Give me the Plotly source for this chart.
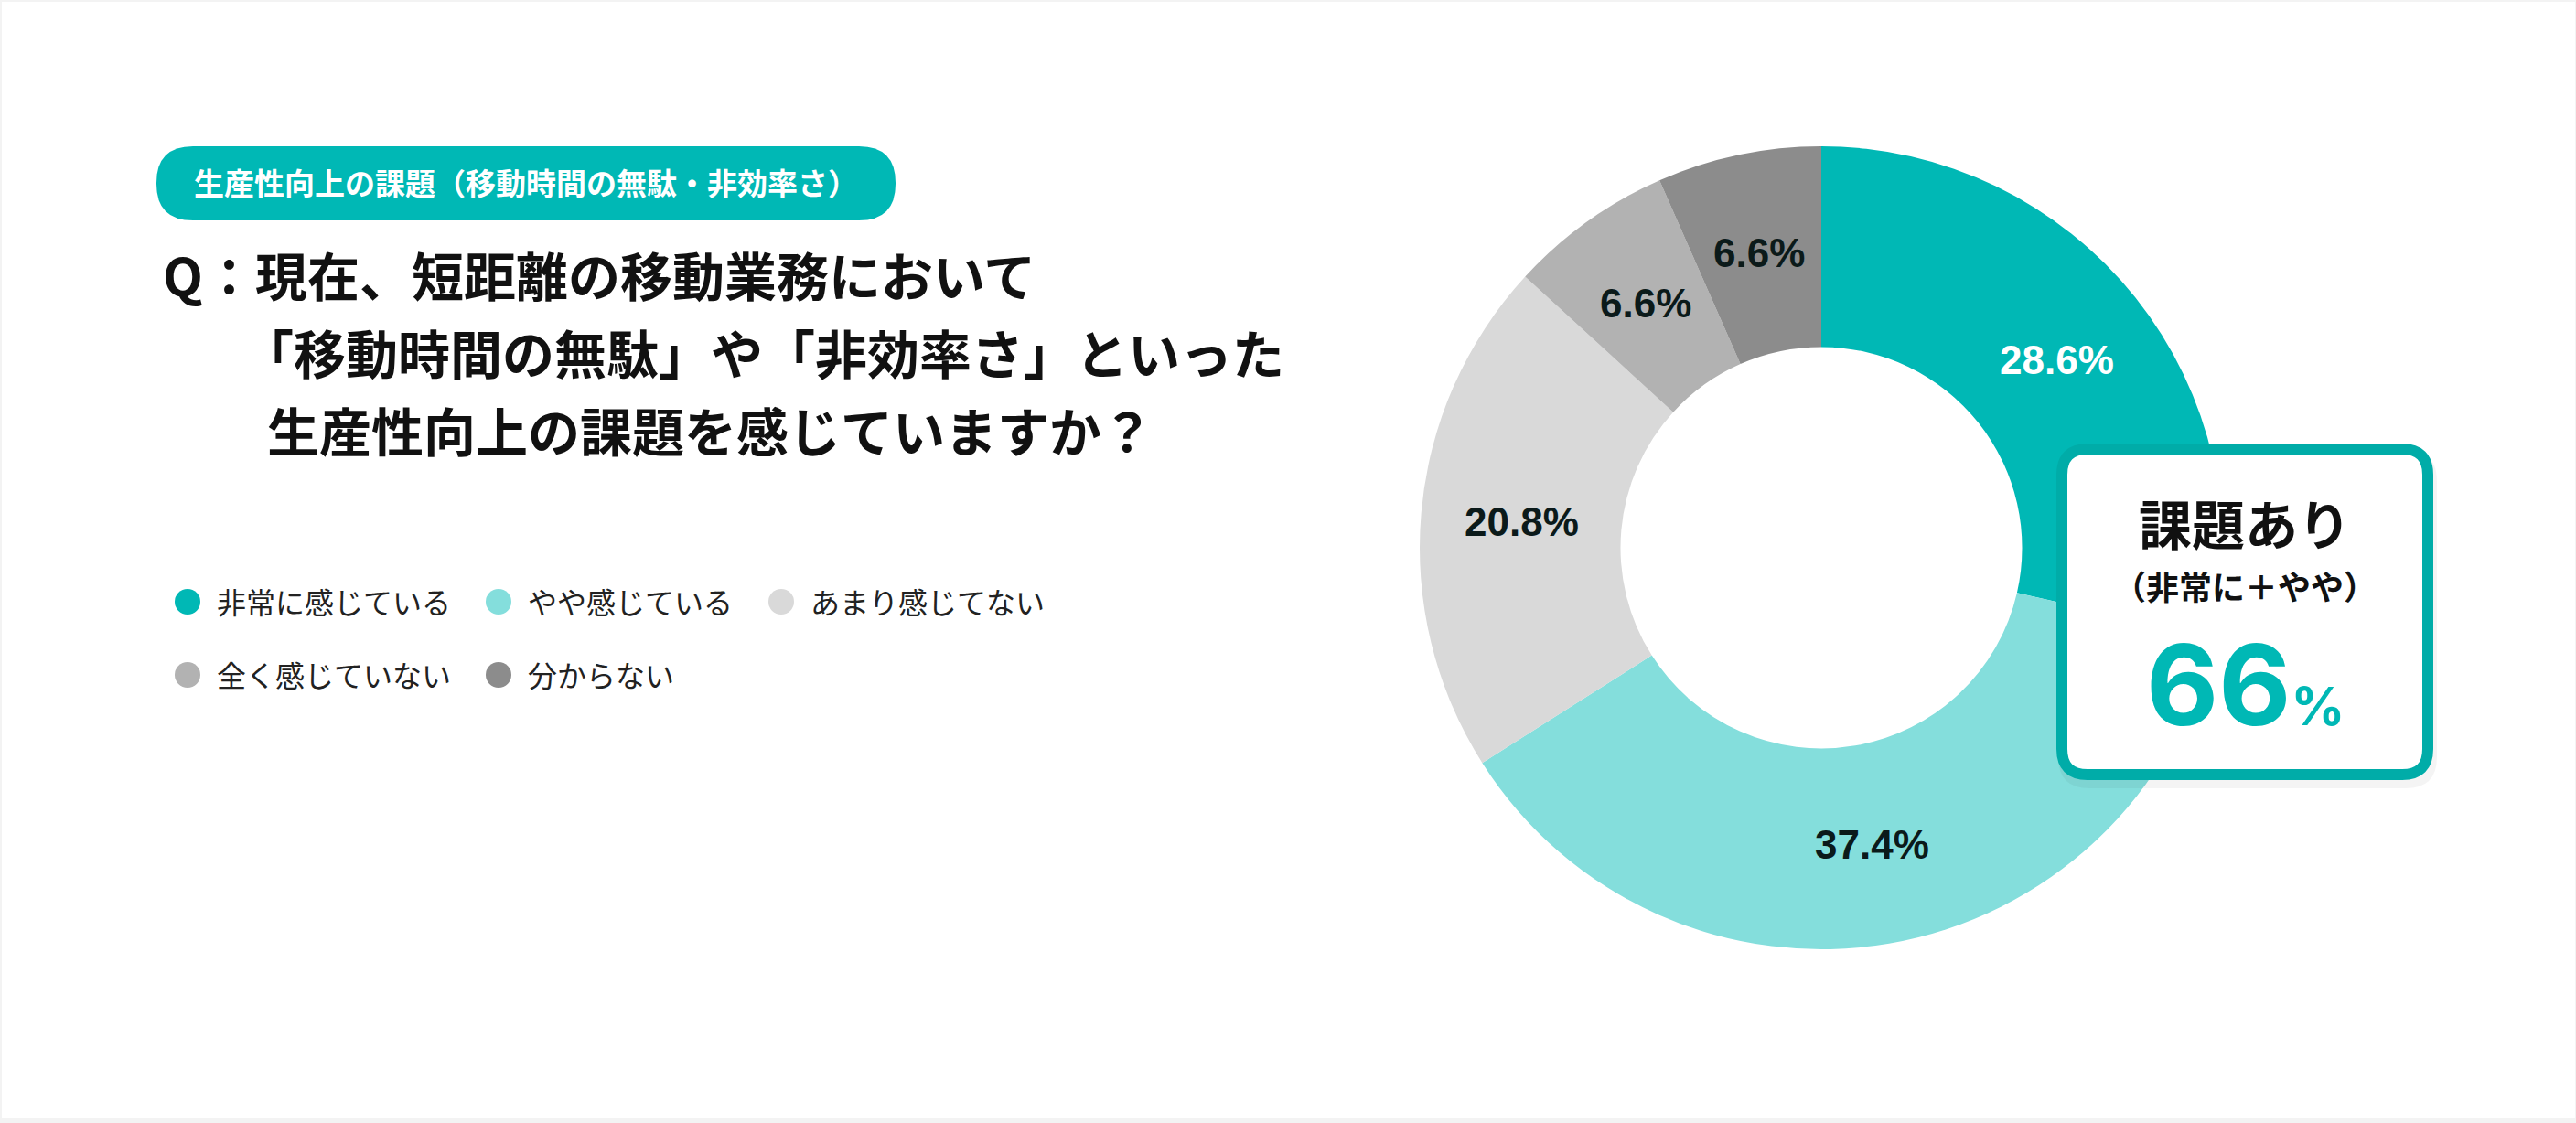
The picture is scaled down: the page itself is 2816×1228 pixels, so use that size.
import math

import plotly.graph_objects as go

# data
categories = ["非常に感じている", "やや感じている", "あまり感じてない", "全く感じていない", "分からない"]
shares = [28.6, 37.4, 20.8, 6.6, 6.6]
colors = ["#00b8b5", "#84dedc", "#d9d9d9", "#b2b2b2", "#8c8c8c"]
label_colors = ["#ffffff", "#0b1a1a", "#0b1a1a", "#0b1a1a", "#0b1a1a"]

badge_text = "生産性向上の課題（移動時間の無駄・非効率さ）"
question_lines = [
    "Q：現在、短距離の移動業務において",
    "「移動時間の無駄」や「非効率さ」といった",
    "生産性向上の課題を感じていますか？",
]
callout_title = "課題あり"
callout_sub = "（非常に＋やや）"
callout_value = shares[0] + shares[1]

W, H = 2816, 1228
JP = "Noto Sans CJK JP"
TEAL = "#00b8b5"

# pie geometry (pixels)
cx, cy, r = 1991, 599, 439
HOLE = 0.5

fig = go.Figure()

fig.add_trace(
    go.Pie(
        labels=categories,
        values=shares,
        sort=False,
        direction="clockwise",
        rotation=0,
        hole=HOLE,
        marker=dict(colors=colors, line=dict(width=0)),
        textinfo="none",
        hoverinfo="label+percent",
        showlegend=False,
        domain=dict(
            x=[(cx - r) / W, (cx + r) / W],
            y=[(H - cy - r) / H, (H - cy + r) / H],
        ),
    )
)

shapes = []
annotations = []

# white card on light gray page
shapes.append(dict(type="rect", xref="x", yref="y", x0=2, x1=W - 1, y0=2, y1=H - 6,
                   fillcolor="white", line=dict(width=0), layer="below"))


def rounded_rect(x0, y0, x1, y1, rad):
    return (f"M {x0 + rad},{y0} L {x1 - rad},{y0} Q {x1},{y0} {x1},{y0 + rad} "
            f"L {x1},{y1 - rad} Q {x1},{y1} {x1 - rad},{y1} "
            f"L {x0 + rad},{y1} Q {x0},{y1} {x0},{y1 - rad} "
            f"L {x0},{y0 + rad} Q {x0},{y0} {x0 + rad},{y0} Z")


# slice labels at the middle of the ring, mid-angle of each slice
total = sum(shares)
cum = 0.0
ring_r = r * (1 + HOLE) / 2
for v, tc in zip(shares, label_colors):
    ang = 2 * math.pi * (cum + v / 2) / total
    cum += v
    annotations.append(dict(x=cx + ring_r * math.sin(ang), y=cy - ring_r * math.cos(ang),
                            xref="x", yref="y", text=f"{v:.1f}%", showarrow=False,
                            font=dict(family="Liberation Sans", size=44, color=tc, weight="bold")))

# badge
shapes.append(dict(type="path", xref="x", yref="y", path=rounded_rect(171, 160, 979, 241, 40),
                   fillcolor=TEAL, line=dict(width=0), layer="below"))
annotations.append(dict(x=575, y=199, xref="x", yref="y", text=badge_text, showarrow=False,
                        font=dict(family=JP, size=33, color="white", weight="bold")))

# question
q_x = [176, 262, 290]
q_y = [299, 384, 469]
for txt, x, y in zip(question_lines, q_x, q_y):
    annotations.append(dict(x=x, y=y, xref="x", yref="y", text=txt, showarrow=False,
                            xanchor="left", yanchor="middle",
                            font=dict(family=JP, size=57, color="#111111", weight="bold")))

# legend
leg_pos = [(205, 658), (545, 658), (854, 658), (205, 738), (545, 738)]
for name, col, (lx, ly) in zip(categories, colors, leg_pos):
    shapes.append(dict(type="circle", xref="x", yref="y", x0=lx - 14, x1=lx + 14, y0=ly - 14, y1=ly + 14,
                       fillcolor=col, line=dict(width=0)))
    annotations.append(dict(x=lx + 30, y=ly - 1, xref="x", yref="y", text=name, showarrow=False,
                            xanchor="left", yanchor="middle",
                            font=dict(family=JP, size=32, color="#222222")))

# callout box with soft shadow
shapes.append(dict(type="path", xref="x", yref="y", path=rounded_rect(2250, 492, 2664, 862, 34),
                   fillcolor="rgba(0,0,0,0.045)", line=dict(width=0), layer="above"))
shapes.append(dict(type="path", xref="x", yref="y", path=rounded_rect(2254, 491, 2654, 847, 28),
                   fillcolor="white", line=dict(color="#00aca8", width=12), layer="above"))
annotations.append(dict(x=2454, y=597, xref="x", yref="y",
                        text=(f"<span style='font-size:58px'>{callout_title}</span><br>"
                              f"<span style='font-size:36px'>{callout_sub}</span>"),
                        showarrow=False,
                        font=dict(family=JP, size=46, color="#111111", weight="bold")))
annotations.append(dict(x=2454, y=748, xref="x", yref="y",
                        text=f"{callout_value:.0f}<span style='font-size:58px'>%</span>",
                        showarrow=False,
                        font=dict(family="Inter", size=122, color=TEAL, weight="bold")))

fig.update_layout(
    width=W,
    height=H,
    margin=dict(l=0, r=0, t=0, b=0),
    paper_bgcolor="#f3f3f3",
    plot_bgcolor="rgba(0,0,0,0)",
    xaxis=dict(range=[0, W], visible=False, fixedrange=True),
    yaxis=dict(range=[H, 0], visible=False, fixedrange=True),
    shapes=shapes,
    annotations=annotations,
    showlegend=False,
)

# drop the browser's default page margin so the figure sits at the window corner
fig.write_html("out.html", config={"displayModeBar": False},
               post_script="document.body.style.margin='0';")
